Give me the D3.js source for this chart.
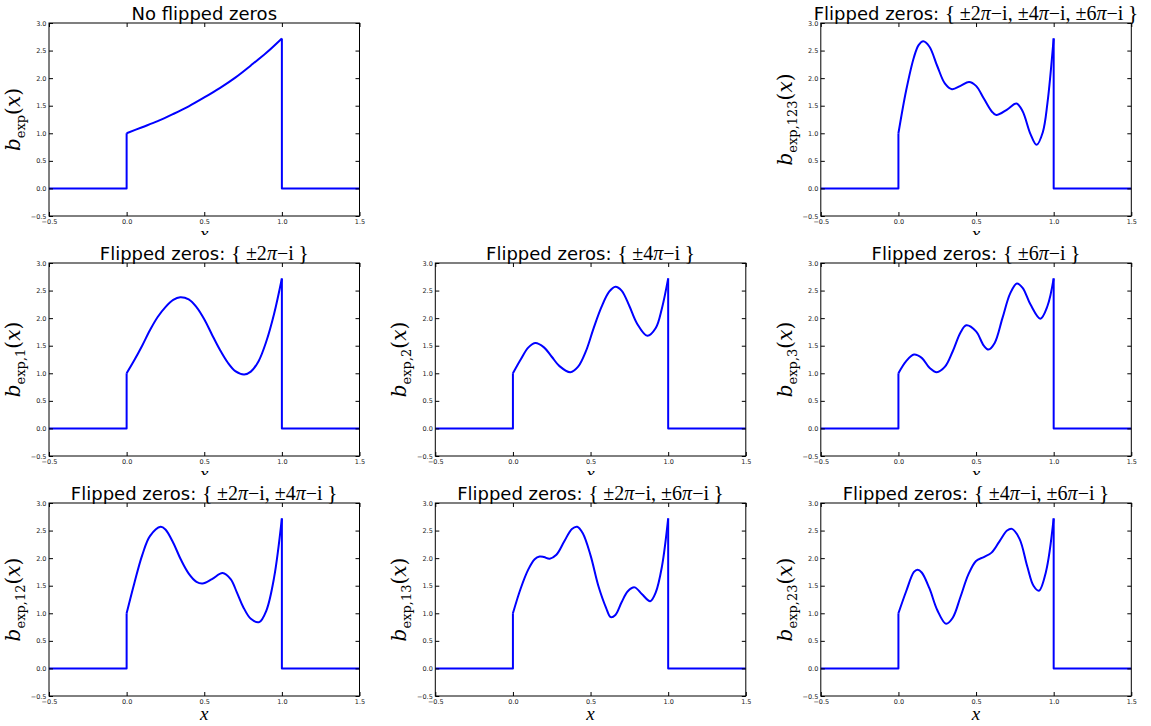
<!DOCTYPE html>
<html><head><meta charset="utf-8">
<script src="https://cdn.jsdelivr.net/npm/d3@7"></script>
<style>body{margin:0;background:#fff}svg{display:block}</style>
</head><body><svg id="c" width="1151" height="726"></svg>
<script>
// ---- data ----
const xTicks = [-0.5, 0, 0.5, 1, 1.5];
const yTicks = [-0.5, 0, 0.5, 1, 1.5, 2, 2.5, 3];
const supportLeft = [-0.5, 0];   // function is zero outside [0,1]
const supportRight = [1, 1.5];

const x_none = [0, 0.1, 0.2, 0.3, 0.4, 0.5, 0.6, 0.7, 0.8, 0.9, 1.0];
const y_none = [1.00, 1.11, 1.22, 1.35, 1.49, 1.65, 1.82, 2.01, 2.23, 2.46, 2.72];

const x_123 = [0, 0.05, 0.1, 0.13, 0.16, 0.2, 0.25, 0.3, 0.345, 0.4, 0.455, 0.5, 0.55, 0.6, 0.63, 0.7, 0.76, 0.8, 0.85, 0.89, 0.93, 0.96, 1.0];
const y_123 = [1.00, 1.78, 2.38, 2.60, 2.67, 2.57, 2.22, 1.90, 1.80, 1.86, 1.93, 1.86, 1.63, 1.40, 1.33, 1.43, 1.54, 1.40, 0.99, 0.79, 1.02, 1.55, 2.72];

const x_1 = [0, 0.05, 0.1, 0.15, 0.2, 0.25, 0.3, 0.345, 0.4, 0.45, 0.5, 0.55, 0.6, 0.65, 0.7, 0.757, 0.8, 0.85, 0.9, 0.95, 1.0];
const y_1 = [1.00, 1.24, 1.50, 1.78, 2.02, 2.20, 2.33, 2.38, 2.34, 2.20, 1.98, 1.70, 1.43, 1.20, 1.04, 0.98, 1.03, 1.22, 1.58, 2.08, 2.72];

const x_2 = [0, 0.05, 0.1, 0.145, 0.2, 0.25, 0.3, 0.37, 0.42, 0.47, 0.52, 0.57, 0.62, 0.66, 0.7, 0.75, 0.8, 0.866, 0.92, 0.96, 1.0];
const y_2 = [1.00, 1.25, 1.47, 1.55, 1.47, 1.30, 1.13, 1.02, 1.12, 1.40, 1.82, 2.20, 2.48, 2.57, 2.50, 2.22, 1.90, 1.68, 1.82, 2.18, 2.72];

const x_3 = [0, 0.05, 0.1, 0.15, 0.2, 0.247, 0.3, 0.35, 0.4, 0.437, 0.5, 0.55, 0.58, 0.62, 0.67, 0.72, 0.763, 0.8, 0.85, 0.914, 0.96, 1.0];
const y_3 = [1.00, 1.22, 1.34, 1.28, 1.10, 1.02, 1.12, 1.40, 1.74, 1.87, 1.76, 1.50, 1.43, 1.55, 2.00, 2.45, 2.63, 2.55, 2.25, 1.99, 2.22, 2.72];

const x_12 = [0, 0.05, 0.1, 0.15, 0.219, 0.25, 0.3, 0.35, 0.4, 0.45, 0.489, 0.55, 0.618, 0.67, 0.71, 0.75, 0.8, 0.854, 0.9, 0.95, 1.0];
const y_12 = [1.00, 1.55, 2.05, 2.40, 2.57, 2.52, 2.28, 1.97, 1.72, 1.57, 1.54, 1.62, 1.73, 1.62, 1.38, 1.12, 0.90, 0.84, 1.05, 1.65, 2.72];

const x_13 = [0, 0.05, 0.1, 0.14, 0.172, 0.2, 0.237, 0.28, 0.33, 0.38, 0.414, 0.45, 0.5, 0.55, 0.6, 0.63, 0.66, 0.7, 0.74, 0.784, 0.83, 0.884, 0.92, 0.96, 1.0];
const y_13 = [1.00, 1.45, 1.80, 1.98, 2.03, 2.02, 1.99, 2.06, 2.30, 2.53, 2.57, 2.45, 2.05, 1.50, 1.10, 0.93, 0.97, 1.20, 1.40, 1.47, 1.35, 1.22, 1.38, 1.85, 2.72];

const x_23 = [0, 0.05, 0.1, 0.123, 0.15, 0.2, 0.25, 0.307, 0.35, 0.4, 0.45, 0.5, 0.55, 0.6, 0.65, 0.7, 0.731, 0.78, 0.83, 0.87, 0.905, 0.95, 1.0];
const y_23 = [1.00, 1.40, 1.75, 1.79, 1.74, 1.45, 1.06, 0.81, 0.92, 1.30, 1.70, 1.95, 2.02, 2.10, 2.30, 2.50, 2.53, 2.35, 1.85, 1.50, 1.41, 1.75, 2.72];

const titleNone = "No flipped zeros";
const titlePrefix = "Flipped zeros: ";
const flips_123 = [2, 4, 6], flips_1 = [2], flips_2 = [4], flips_3 = [6];
const flips_12 = [2, 4], flips_13 = [2, 6], flips_23 = [4, 6];

const panels = [
  {col: 0, row: 0, flips: null,      sub: "exp",     xs: x_none, ys: y_none},
  {col: 2, row: 0, flips: flips_123, sub: "exp,123", xs: x_123,  ys: y_123},
  {col: 0, row: 1, flips: flips_1,   sub: "exp,1",   xs: x_1,    ys: y_1},
  {col: 1, row: 1, flips: flips_2,   sub: "exp,2",   xs: x_2,    ys: y_2},
  {col: 2, row: 1, flips: flips_3,   sub: "exp,3",   xs: x_3,    ys: y_3},
  {col: 0, row: 2, flips: flips_12,  sub: "exp,12",  xs: x_12,   ys: y_12},
  {col: 1, row: 2, flips: flips_13,  sub: "exp,13",  xs: x_13,   ys: y_13},
  {col: 2, row: 2, flips: flips_23,  sub: "exp,23",  xs: x_23,   ys: y_23},
];

// ---- layout ----
const colLeft = [49, 435.3, 820.8];
const rowTop = [23, 263, 503];
const W = 310.5, H = 193;
const SANS = "'DejaVu Sans', sans-serif";
const SERIF = "'Liberation Serif', 'DejaVu Serif', serif";
const LSERIF = "'DejaVu Serif', serif";

const svg = d3.select("#c");
const defs = svg.append("defs");
const fmt = d => d3.format(".1f")(d).replace("-", "\u2212");

panels.forEach((p, i) => {
  const L = colLeft[p.col], T = rowTop[p.row];
  const x = d3.scaleLinear().domain([xTicks[0], xTicks[xTicks.length - 1]]).range([L, L + W]);
  const y = d3.scaleLinear().domain([yTicks[0], yTicks[yTicks.length - 1]]).range([T + H, T]);
  const g = svg.append("g");

  defs.append("clipPath").attr("id", "clip" + i).append("rect")
    .attr("x", L).attr("y", T).attr("width", W).attr("height", H);

  // data lines
  const pts = p.xs.map((v, k) => [v, p.ys[k]]);
  const n = pts.length;
  const lineLin = d3.line().x(d => x(d[0])).y(d => y(d[1]));
  const lineCurve = d3.line().x(d => x(d[0])).y(d => y(d[1])).curve(d3.curveCatmullRom.alpha(0.5));
  const pg = g.append("g").attr("clip-path", `url(#clip${i})`)
    .attr("fill", "none").attr("stroke", "#0000ff").attr("stroke-width", 2).attr("stroke-linejoin", "round");
  pg.append("path").attr("d", lineLin([[supportLeft[0], 0], [supportLeft[1], 0], pts[0]]));
  pg.append("path").attr("d", lineLin([pts[n - 1], [supportRight[0], 0], [supportRight[1], 0]]));
  pg.append("path").attr("d", lineCurve(pts));

  // axes (ticks inward on all sides)
  const tk = 4;
  const axB = g.append("g").attr("transform", `translate(0,${T + H})`)
    .call(d3.axisBottom(x).tickValues(xTicks).tickFormat(fmt).tickSizeInner(-tk).tickSizeOuter(0).tickPadding(3));
  const axT = g.append("g").attr("transform", `translate(0,${T})`)
    .call(d3.axisTop(x).tickValues(xTicks).tickFormat("").tickSizeInner(-tk).tickSizeOuter(0));
  const axL = g.append("g").attr("transform", `translate(${L},0)`)
    .call(d3.axisLeft(y).tickValues(yTicks).tickFormat(fmt).tickSizeInner(-tk).tickSizeOuter(0).tickPadding(2.5));
  const axR = g.append("g").attr("transform", `translate(${L + W},0)`)
    .call(d3.axisRight(y).tickValues(yTicks).tickFormat("").tickSizeInner(-tk).tickSizeOuter(0));
  [axB, axT, axL, axR].forEach(a => {
    a.select(".domain").remove();
    a.selectAll("line").attr("stroke", "#000").attr("stroke-width", 1);
    a.selectAll("text").attr("font-family", SANS).attr("font-size", 6.5).attr("fill", "#222");
  });

  // frame
  g.append("rect").attr("x", L).attr("y", T).attr("width", W).attr("height", H)
    .attr("fill", "none").attr("stroke", "#000").attr("stroke-width", 1);

  // title
  const t = g.append("text").attr("x", L + W / 2).attr("y", T - 3.5)
    .attr("text-anchor", "middle").attr("font-size", 18).attr("fill", "#000");
  if (!p.flips) {
    t.append("tspan").attr("font-family", SANS).text(titleNone);
  } else {
    t.append("tspan").attr("font-family", SANS).text(titlePrefix);
    t.append("tspan").attr("font-family", SERIF).attr("font-size", 22).text("{\u2009");
    p.flips.forEach((f, k) => {
      t.append("tspan").attr("font-family", SERIF).attr("font-size", 20).text("\u00b1" + f);
      t.append("tspan").attr("font-family", SERIF).attr("font-size", 20).attr("font-style", "italic").text("\u03c0");
      t.append("tspan").attr("font-family", SERIF).attr("font-size", 20).text("\u2212i" + (k < p.flips.length - 1 ? ", " : ""));
    });
    t.append("tspan").attr("font-family", SERIF).attr("font-size", 22).text("\u2009}");
  }

  // y label
  const yl = g.append("text")
    .attr("transform", `translate(${L - 29},${T + H / 2}) rotate(-90)`)
    .attr("text-anchor", "middle").attr("font-family", LSERIF).attr("font-size", 20).attr("fill", "#000");
  yl.append("tspan").attr("font-style", "italic").text("b");
  yl.append("tspan").attr("font-size", 13).attr("dy", 5).text(p.sub);
  yl.append("tspan").attr("dy", -5).text("(");
  yl.append("tspan").attr("font-style", "italic").text("x");
  yl.append("tspan").text(")");

  // x label (partly hidden under next row in the upper rows)
  defs.append("clipPath").attr("id", "xclip" + i).append("rect")
    .attr("x", L).attr("y", T + H).attr("width", W).attr("height", p.row < 2 ? 19 : 40);
  g.append("text").attr("clip-path", `url(#xclip${i})`)
    .attr("x", L + W / 2).attr("y", T + H + 24).attr("text-anchor", "middle")
    .attr("font-family", SERIF).attr("font-style", "italic").attr("font-size", 19).attr("fill", "#000")
    .text("x");
});
</script>
</body></html>
